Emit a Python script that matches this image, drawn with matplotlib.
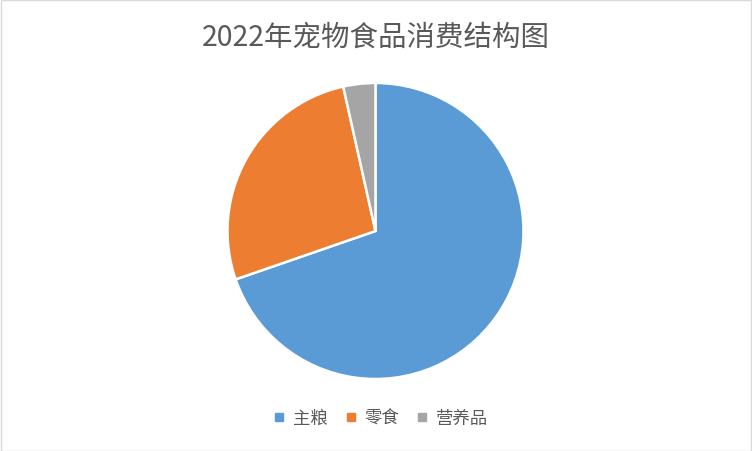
import matplotlib

matplotlib.use("Agg")
import matplotlib.pyplot as plt
from matplotlib.lines import Line2D
from matplotlib.patches import Rectangle

plt.rcParams["font.family"] = ["Noto Sans CJK SC", "DejaVu Sans"]

CATEGORIES = ["主粮", "零食", "营养品"]
SHARES = [69.7, 26.8, 3.5]
COLORS = ["#5B9BD5", "#ED7D31", "#A5A5A5"]
TITLE = "2022年宠物食品消费结构图"

W, H = 752, 452
fig = plt.figure(figsize=(W / 100, H / 100), dpi=100)
fig.patch.set_facecolor("white")
fig.patches.append(Rectangle((0.5 / W, 0.5 / H), 1 - 1.5 / W, 1 - 1.5 / H,
                             transform=fig.transFigure, fill=False,
                             edgecolor="#D9D9D9", linewidth=1))

# pie axes: centre ~(375, 232) px, radius ~148 px
cx, cy, r = 375.5, 232, 148
ax = fig.add_axes([(cx - r) / W, (H - cy - r) / H, 2 * r / W, 2 * r / H])
ax.pie(SHARES, colors=COLORS, startangle=90, counterclock=False, radius=1,
       wedgeprops=dict(edgecolor="white", linewidth=1.8))
ax.set_xlim(-1, 1)
ax.set_ylim(-1, 1)
ax.set_aspect("equal")
ax.axis("off")

fig.text(0.5, 1 - 38 / H, TITLE, ha="center", va="center",
         fontsize=20.5, color="#595959")

handles = [Line2D([], [], marker="s", linestyle="none", markersize=6,
                  markerfacecolor=c, markeredgecolor=c) for c in COLORS]
fig.legend(handles, CATEGORIES, loc="center", bbox_to_anchor=(381 / W, 1 - 419 / H),
           ncol=3, frameon=False, fontsize=12.5, labelcolor="#595959",
           handlelength=0.6, handletextpad=0.5, columnspacing=1.0)

fig.savefig("out.png", dpi=100)
